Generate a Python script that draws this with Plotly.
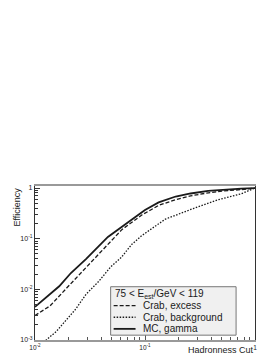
import plotly.graph_objects as go

# Hadronness cut values and efficiencies
mc_x = [0.010, 0.0166, 0.0212, 0.0292, 0.046, 0.055, 0.060, 0.068, 0.080, 0.100, 0.133, 0.190, 0.260, 0.375, 0.50, 0.75, 1.0]
mc_y = [0.0045, 0.0115, 0.021, 0.040, 0.108, 0.145, 0.162, 0.200, 0.260, 0.370, 0.520, 0.680, 0.780, 0.880, 0.925, 0.970, 1.0]

exc_x = [0.010, 0.0137, 0.0194, 0.0274, 0.0388, 0.053, 0.0616, 0.0935, 0.133, 0.190, 0.260, 0.377, 0.50, 0.75, 1.0]
exc_y = [0.00305, 0.0047, 0.0106, 0.0238, 0.0533, 0.111, 0.151, 0.293, 0.455, 0.590, 0.700, 0.805, 0.870, 0.930, 1.0]

bkg_x = [0.0115, 0.01265, 0.0156, 0.0192, 0.0235, 0.0291, 0.0379, 0.0487, 0.0612, 0.0755, 0.093, 0.1076, 0.153, 0.275, 0.462, 0.746, 1.0]
bkg_y = [0.0008, 0.0010, 0.00147, 0.00245, 0.0041, 0.0080, 0.0143, 0.0277, 0.0431, 0.0767, 0.114, 0.1425, 0.243, 0.394, 0.587, 0.767, 1.0]

series_names = ["Crab, excess", "Crab, background", "MC, gamma"]
legend_title = "75 < E<sub>est</sub>/GeV < 119"

y_tickvals = [0.001, 0.01, 0.1, 1]
y_ticktext = ["10<sup>-3</sup>", "10<sup>-2</sup>", "10<sup>-1</sup>", "1"]
x_tickvals = [0.01, 0.1, 1]
x_ticktext = ["10<sup>-2</sup>", "10<sup>-1</sup>", "1"]

FONT = "Liberation Sans, Arial, sans-serif"
INK = "#1a1a1a"
W, H = 274, 355
L, R, T, B = 26, 27, 178, 18
PW, PH = W - L - R, H - T - B

def px(xpix):
    return (xpix - L) / PW

def py(ypix):
    return (H - B - ypix) / PH

styles = [
    dict(color=INK, width=1.3, dash="4px,2px"),
    dict(color=INK, width=1.3, dash="1.5px,1.5px"),
    dict(color=INK, width=1.8),
]

fig = go.Figure()
for xs, ys, name, st in zip([exc_x, bkg_x, mc_x], [exc_y, bkg_y, mc_y], series_names, styles):
    fig.add_trace(go.Scatter(x=xs, y=ys, mode="lines", name=name, line=st, showlegend=False))

minor_y = [m * 10 ** e for e in (-3, -2, -1) for m in range(2, 10)]
minor_x = [m * 10 ** e for e in (-2, -1) for m in range(2, 10)]

# custom legend (box, sample lines, text)
shapes = [dict(type="rect", xref="paper", yref="paper",
               x0=px(102), x1=px(228), y0=py(332), y1=py(282),
               fillcolor="#f0f0f0", line=dict(color="#777", width=1), layer="above")]
annotations = [dict(text=legend_title, xref="paper", yref="paper", x=px(104), y=py(289),
                    xanchor="left", yanchor="middle", showarrow=False,
                    font=dict(size=10, family=FONT, color=INK))]
rows = [301.5, 313.5, 325.5]
for name, st, row in zip(series_names, styles, rows):
    shapes.append(dict(type="line", xref="paper", yref="paper",
                       x0=px(105), x1=px(127), y0=py(row), y1=py(row),
                       line=st, layer="above"))
    annotations.append(dict(text=name, xref="paper", yref="paper", x=px(132), y=py(row),
                            xanchor="left", yanchor="middle", showarrow=False,
                            font=dict(size=10, family=FONT, color=INK)))

annotations += [
    dict(text="Efficiency", xref="paper", yref="paper", x=0, y=1,
         xanchor="left", yanchor="top", xshift=-L, textangle=-90,
         showarrow=False, font=dict(size=9, family=FONT, color=INK)),
    dict(text="Hadronness Cut", xref="paper", yref="paper", x=1, y=0,
         xanchor="right", yanchor="bottom", yshift=-16, borderpad=0,
         showarrow=False, font=dict(size=9, family=FONT, color=INK)),
]

fig.update_layout(
    width=W, height=H,
    margin=dict(l=L, r=R, t=T, b=B),
    paper_bgcolor="white", plot_bgcolor="white",
    font=dict(family=FONT, color=INK),
    showlegend=False,
    shapes=shapes,
    annotations=annotations,
    xaxis=dict(
        type="log", range=[-2, 0],
        tickvals=x_tickvals, ticktext=x_ticktext,
        ticks="inside", ticklen=5, tickcolor="#555",
        tickfont=dict(size=6.5, family=FONT),
        showgrid=False, zeroline=False,
        showline=True, linecolor="#999", linewidth=1.5, mirror=True,
        minor=dict(tickvals=minor_x, ticks="inside", ticklen=3, tickcolor="#555", showgrid=False),
    ),
    yaxis=dict(
        type="log", range=[-3, 0.04],
        tickvals=y_tickvals, ticktext=y_ticktext,
        ticks="inside", ticklen=5, tickcolor="#333",
        tickfont=dict(size=7, family=FONT),
        showgrid=False, zeroline=False,
        showline=True, linecolor="#333", linewidth=1.2, mirror=True,
        minor=dict(tickvals=minor_y, ticks="inside", ticklen=3, tickcolor="#333", showgrid=False),
    ),
)

fig.write_html("out.html")
